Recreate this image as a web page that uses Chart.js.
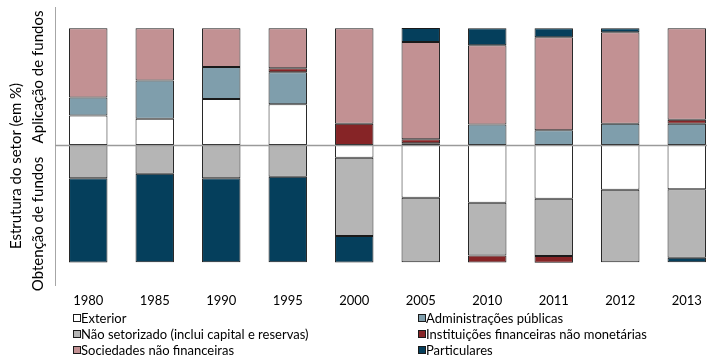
<!DOCTYPE html>
<html>
<head>
<meta charset="utf-8">
<script src="https://cdn.jsdelivr.net/npm/chart.js@4"></script>
<style>
  html, body { margin: 0; padding: 0; background: #fff; overflow: hidden; width: 707px; height: 356px; }
  #wrap { position: absolute; left: 0; top: 0; width: 722px; height: 356px; }
  .rot { position: absolute; white-space: nowrap; font-family: Lato, "Liberation Sans", sans-serif; color: #000; transform: translate(-50%, -50%) rotate(-90deg); }
  .leg { position: absolute; font-family: Lato, "Liberation Sans", sans-serif; font-size: 13px; color: #000; white-space: nowrap; line-height: 1; }
  .leg span.box { position: absolute; width: 6px; height: 6px; border: 1px solid #1a1a1a; }
  .leg span.txt { position: absolute; transform: translateY(-50%); }
</style>
</head>
<body>
<div id="wrap"><canvas id="c" width="722" height="356"></canvas></div>
<div class="rot" style="left:15px; top:166px; font-size:15px;">Estrutura do setor (em %)</div>
<div class="rot" style="left:37px; top:77px; font-size:15px;">Aplicação de fundos</div>
<div class="rot" style="left:37px; top:224px; font-size:15px;">Obtenção de fundos</div>
<div id="legend"></div>
<script>
// ---- data (percent; positive = aplicação, negative = obtenção) ----
const years = ["1980","1985","1990","1995","2000","2005","2010","2011","2012","2013"];
const exterior      = [25.3, 22.5, 39.5, 35.0, -10.8, -45.0, -49.2, -45.8, -38.1, -37.6];
const administracoes= [15.4, 32.7, 27.3, 27.3, null, 1.5, 17.6, 12.8, 18.2, 18.2];
const naoSetorizado = [-28.2, -24.5, -28.4, -27.0, -66.9, -55.0, -45.0, -48.9, -62.0, -58.6];
const instituicoes  = [null, null, null, 3.4, 18.2, 3.5, -6.0, -5.7, null, 3.4];
const sociedades    = [59.2, 44.7, 33.0, 34.1, 81.7, 83.0, 67.7, 79.4, 78.2, 78.2];
const particulares  = [-72.0, -75.5, -71.6, -73.0, -22.5, 12.0, 14.5, 7.7, 3.4, -3.8];

const seriesNames = {
  exterior: "Exterior",
  admin: "Administrações públicas",
  nao: "Não setorizado (inclui capital e reservas)",
  inst: "Instituições financeiras não monetárias",
  soc: "Sociedades não financeiras",
  part: "Particulares"
};
const colors = {
  exterior: "#FFFFFF",
  admin: "#7F9EAC",
  nao: "#B5B5B5",
  inst: "#862426",
  soc: "#C29193",
  part: "#053F5C"
};

function ds(key, data) {
  return {
    label: seriesNames[key], data: data,
    backgroundColor: colors[key], borderColor: "#1a1a1a", borderWidth: 1,
    borderSkipped: false,
    barPercentage: 0.578, categoryPercentage: 1.0
  };
}

const zeroLine = {
  id: "zeroLine",
  afterDatasetsDraw(chart) {
    const y = Math.round(chart.scales.y.getPixelForValue(0)) + 0.5;
    const ctx = chart.ctx;
    ctx.save();
    ctx.strokeStyle = "#9a9a9a";
    ctx.lineWidth = 1.5;
    ctx.beginPath();
    ctx.moveTo(chart.chartArea.left, y);
    ctx.lineTo(chart.chartArea.right, y);
    ctx.stroke();
    ctx.restore();
  }
};

new Chart(document.getElementById("c"), {
  type: "bar",
  data: {
    labels: years,
    datasets: [
      ds("exterior", exterior),
      ds("admin", administracoes),
      ds("nao", naoSetorizado),
      ds("inst", instituicoes),
      ds("soc", sociedades),
      ds("part", particulares)
    ]
  },
  options: {
    responsive: false,
    animation: false,
    devicePixelRatio: 1,
    layout: { padding: { top: 7, right: 2, left: 0, bottom: 0 } },
    plugins: { legend: { display: false }, tooltip: { enabled: false } },
    scales: {
      x: {
        stacked: true,
        grid: { display: false, drawTicks: false },
        border: { display: false },
        ticks: { color: "#000", font: { family: "Lato", size: 13 }, padding: 8, maxRotation: 0, autoSkip: false },
        afterFit(scale) { scale.height = 71; }
      },
      y: {
        stacked: true,
        min: -119.5, max: 118,
        grid: { display: false, drawTicks: false },
        border: { display: true, color: "#A6A6A6", width: 1 },
        ticks: { display: false },
        afterFit(scale) { scale.width = 55; }
      }
    }
  },
  plugins: [zeroLine]
});

// ---- legend (two columns, row-major) ----
const legendItems = [
  ["exterior", 73, 318], ["admin", 418, 318],
  ["nao", 73, 334], ["inst", 418, 334],
  ["soc", 73, 350], ["part", 418, 350]
];
const legend = document.getElementById("legend");
legendItems.forEach(([key, x, y]) => {
  const d = document.createElement("div");
  d.className = "leg";
  d.style.left = "0px"; d.style.top = "0px";
  const b = document.createElement("span");
  b.className = "box";
  b.style.left = x + "px"; b.style.top = (y - 4) + "px";
  b.style.background = colors[key];
  const t = document.createElement("span");
  t.className = "txt";
  t.style.left = (x + 8) + "px"; t.style.top = y + "px";
  t.textContent = seriesNames[key];
  d.appendChild(b); d.appendChild(t);
  legend.appendChild(d);
});
</script>
</body>
</html>
